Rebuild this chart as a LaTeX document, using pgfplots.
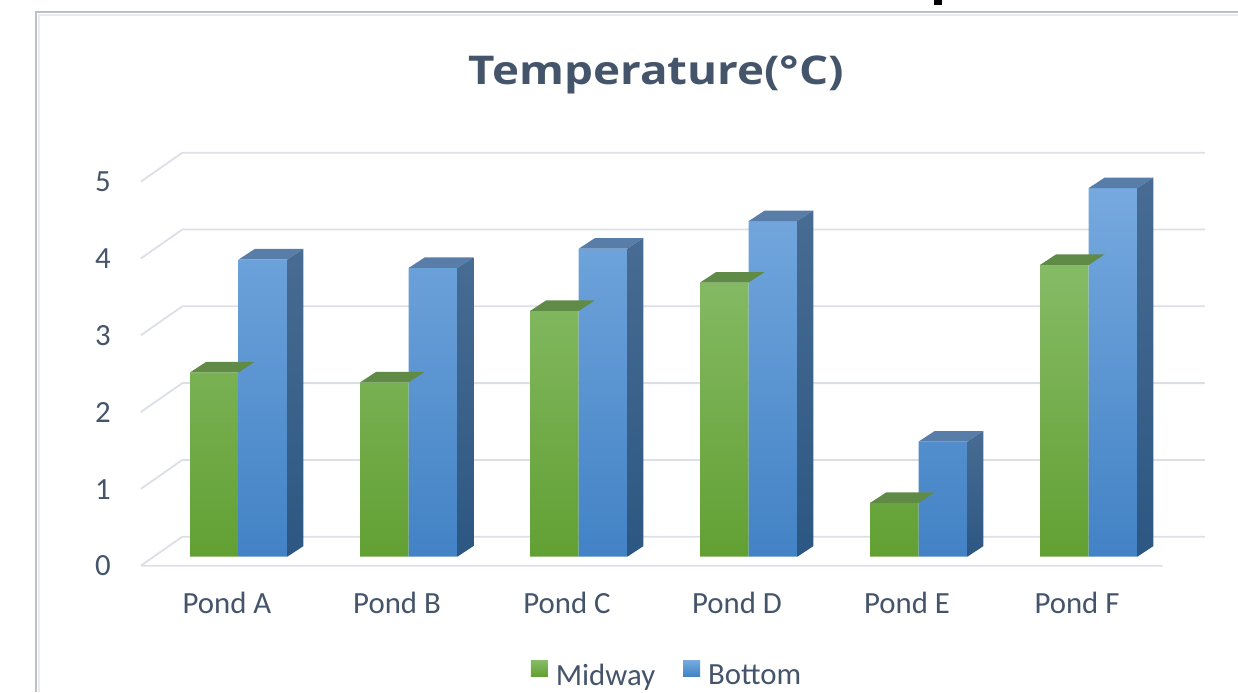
\documentclass[border=0pt]{standalone}
\usepackage{pgfplots}
\pgfplotsset{compat=1.18}
\usepackage{pgfplotstable}
\usepackage{fontspec}
\setmainfont{Carlito}
\newfontfamily\titlefont{Open Sans}
\definecolor{txt}{HTML}{44546A}
\definecolor{gridc}{HTML}{DCDFE6}
\definecolor{frameo}{HTML}{BEC0C4}
\definecolor{framei}{HTML}{E8ECF1}
\definecolor{gT}{HTML}{86BB66}
\definecolor{gB}{HTML}{62A033}
\definecolor{gTop}{HTML}{608B46}
\definecolor{gLeg}{HTML}{6DAE45}
\definecolor{bT}{HTML}{76A9DF}
\definecolor{bB}{HTML}{4282C5}
\definecolor{bTop}{HTML}{587DA8}
\definecolor{bSideT}{HTML}{486C93}
\definecolor{bSideB}{HTML}{2C5782}
\definecolor{bLeg}{HTML}{5B9BD5}
\pgfdeclareplotmark{nothing}{}

\pgfplotstableread{
x mid bot
0 2.40 3.87
1 2.27 3.76
2 3.20 4.01
3 3.57 4.37
4 0.70 1.50
5 3.80 4.80
}\temps

\begin{document}
\begin{tikzpicture}
\useasboundingbox (0,0) rectangle (619pt,346pt);
\draw[color=frameo, line width=0.8pt] (18pt,0pt) -- (18pt,340pt) -- (619pt,340pt);
\draw[color=framei, line width=1pt] (19.3pt,0pt) -- (19.3pt,338.7pt) -- (619pt,338.7pt);
\fill[black] (467pt,343.5pt) rectangle (471pt,346pt);
\begin{axis}[
  x=85pt, y=38.4pt,
  anchor=origin, at={(119.35pt,67.65pt)},
  xmin=-0.75, xmax=5.75, ymin=-0.46, ymax=5.5,
  clip=false,
  axis line style={draw=none},
  major tick length=0pt,
  xtick={0,1,2,3,4,5},
  xticklabels={Pond A,Pond B,Pond C,Pond D,Pond E,Pond F},
  ytick={0,1,2,3,4,5},
  yticklabels={0,1,2,3,4,5},
  xtick pos=bottom, ytick pos=left,
  xticklabel style={anchor=north, inner sep=0pt, xshift=-5.85pt, font=\fontsize{15.4}{16}\selectfont, text=txt},
  yticklabel style={anchor=east, inner sep=0pt, yshift=-4.65pt, font=\fontsize{15.4}{16}\selectfont, text=txt},
  title={\scalebox{1.155}[1]{Temperature(°C)}},
  title style={at={(axis cs:2.458,5.995)}, anchor=base, font=\titlefont\fontsize{19.8}{24}\selectfont\bfseries, text=txt, inner sep=0pt},
  legend columns=2,
  legend style={at={(axis cs:2.514,-1.534)}, anchor=center, draw=none, fill=none,
    font=\fontsize{15.4}{16}\selectfont, text=txt,
    /tikz/every odd column/.append style={column sep=4pt},
    /tikz/every even column/.append style={column sep=14pt},
    nodes={inner sep=0pt}},
]
% gridlines (floor front edge, side wall diagonals, back wall lines)
\addplot[forget plot, color=gridc, line width=0.9pt, unbounded coords=jump, mark=none] coordinates {
(-0.576,-0.117) (5.435,-0.117) (nan,nan)
(-0.576,-0.117) (-0.332,0.26) (5.684,0.26) (nan,nan)
(-0.576,0.883) (-0.332,1.26) (5.684,1.26) (nan,nan)
(-0.576,1.883) (-0.332,2.26) (5.684,2.26) (nan,nan)
(-0.576,2.883) (-0.332,3.26) (5.684,3.26) (nan,nan)
(-0.576,3.883) (-0.332,4.26) (5.684,4.26) (nan,nan)
(-0.576,4.883) (-0.332,5.26) (5.684,5.26)
};
% Midway front faces
\addplot[ybar, bar width=24.3pt, bar shift=-12.15pt, draw=none, top color=gT, bottom color=gB,
  legend image code/.code={\fill[draw=none,fill=gLeg] (0pt,0pt) rectangle (8.5pt,7.8pt);}]
  table[x=x,y=mid]{\temps};
\addlegendentry{Midway}
% Midway top faces
\addplot[forget plot, scatter, only marks, mark=nothing, mark options={draw=none,fill=none},
  scatter/@pre marker code/.code={\path[draw=none,fill=gTop] (-24.3pt,0pt) -- (-16.3pt,5.25pt) -- (8pt,5.25pt) -- (0pt,0pt) -- cycle;},
  scatter/@post marker code/.code={}]
  table[x=x,y=mid]{\temps};
% Bottom front faces
\addplot[ybar, bar width=24.3pt, bar shift=12.15pt, draw=none, top color=bT, bottom color=bB,
  legend image code/.code={\fill[draw=none,fill=bLeg] (0pt,0pt) rectangle (8.5pt,7.8pt);}]
  table[x=x,y=bot]{\temps};
\addlegendentry{Bottom}
% Bottom top and side faces
\addplot[forget plot, scatter, only marks, mark=nothing, mark options={draw=none,fill=none},
  visualization depends on={rawy \as \barval},
  scatter/@pre marker code/.code={%
    \pgfmathsetlengthmacro\barh{\barval*38.4pt}%
    \path[draw=none,fill=bTop] (0pt,0pt) -- (8pt,5.25pt) -- (32.3pt,5.25pt) -- (24.3pt,0pt) -- cycle;
    \path[draw=none,top color=bSideT, bottom color=bSideB] (24.3pt,0pt) -- (32.3pt,5.25pt) -- (32.3pt,5.25pt-\barh) -- (24.3pt,-\barh) -- cycle;},
  scatter/@post marker code/.code={}]
  table[x=x,y=bot]{\temps};
\end{axis}
\end{tikzpicture}
\end{document}
